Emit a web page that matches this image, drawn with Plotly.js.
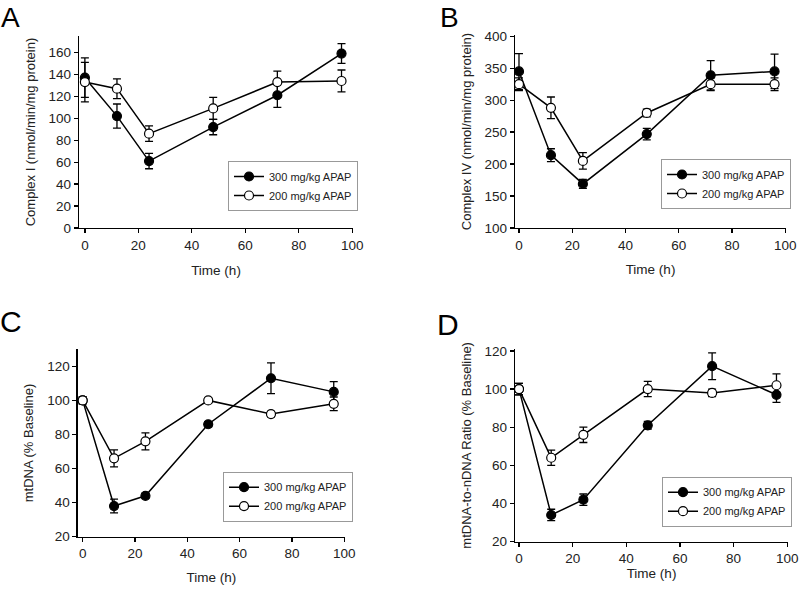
<!DOCTYPE html>
<html>
<head>
<meta charset="utf-8">
<script src="https://cdn.plot.ly/plotly-3.0.1.min.js"></script>
<style>html,body{margin:0;padding:0;background:#fff}#fig{width:800px;height:591px}</style>
</head>
<body>
<div id="fig"></div>
<script>
// time points (h)
var hours = [0, 12, 24, 48, 72, 96];
var doseNames = ['300 mg/kg APAP', '200 mg/kg APAP'];

// A - Complex I
var c1Hi = [137, 102, 61, 92, 121, 159];
var c1HiErr = [18, 11, 7, 7, 11, 9];
var c1Lo = [133, 127, 86, 109, 133, 134];
var c1LoErr = [18, 9, 7, 10, 10, 10];

// B - Complex IV
var c4Hi = [345, 214, 169, 247, 339, 345];
var c4HiErr = [28, 10, 7, 9, 23, 27];
var c4Lo = [325, 288, 205, 280, 325, 325];
var c4LoErr = [10, 17, 13, 6, 10, 10];

// C - mtDNA
var mtHi = [100, 38, 44, 86, 113, 105];
var mtHiErr = [2, 4, 1.5, 1.5, 9, 6];
var mtLo = [100, 66, 76, 100, 92, 98];
var mtLoErr = [2, 5, 5, 1.5, 1.5, 4];

// D - mtDNA-to-nDNA ratio
var ratioHi = [100, 34, 42, 81, 112, 97];
var ratioHiErr = [3, 3, 3, 2, 7, 4];
var ratioLo = [100, 64, 76, 100, 98, 102];
var ratioLoErr = [3, 4, 4, 4, 2, 6];

var txt = '#222';
var fnt = 'Liberation Sans, Arial, sans-serif';

function series(y, err, open, ax, leg) {
  return {
    x: hours, y: y,
    xaxis: 'x' + ax, yaxis: 'y' + ax,
    legend: leg,
    type: 'scatter', mode: 'lines+markers',
    name: open ? doseNames[1] : doseNames[0],
    line: {color: 'black', width: 1.5},
    marker: {
      symbol: 'circle', size: 9,
      color: open ? 'white' : 'black',
      line: {color: 'black', width: 1.2}
    },
    error_y: {type: 'data', array: err, visible: true, color: 'black', thickness: 1.3, width: 4}
  };
}

var data = [
  series(c1Hi, c1HiErr, false, '', 'legend'),
  series(c1Lo, c1LoErr, true, '', 'legend'),
  series(c4Hi, c4HiErr, false, '2', 'legend2'),
  series(c4Lo, c4LoErr, true, '2', 'legend2'),
  series(mtHi, mtHiErr, false, '3', 'legend3'),
  series(mtLo, mtLoErr, true, '3', 'legend3'),
  series(ratioHi, ratioHiErr, false, '4', 'legend4'),
  series(ratioLo, ratioLoErr, true, '4', 'legend4')
];

function axis(opts) {
  var a = {
    showline: true, linecolor: 'black', linewidth: 1.3,
    ticks: 'outside', ticklen: 4, tickwidth: 1.3, tickcolor: 'black',
    showgrid: false, zeroline: false,
    tickfont: {family: fnt, size: 13.5, color: txt},
    fixedrange: true
  };
  for (var k in opts) a[k] = opts[k];
  return a;
}

function xTitle(gap) {
  return {text: 'Time (h)', font: {family: fnt, size: 13.5, color: txt}, standoff: gap};
}
function yTitle(t) {
  return {text: t, font: {family: fnt, size: 13, color: txt}, standoff: 10};
}

function legendBox(x, y) {
  return {
    x: x, y: y, xanchor: 'left', yanchor: 'top',
    bgcolor: 'white', bordercolor: '#999', borderwidth: 1,
    font: {family: fnt, size: 11, color: txt},
    itemwidth: 30
  };
}

// panel letters; top row sits flush with the top edge
function panelLabel(t, x, y, top) {
  return {
    text: t, xref: 'paper', yref: 'paper', x: x / 800,
    y: top ? 1 : 1 - y / 591,
    xanchor: 'center', yanchor: top ? 'top' : 'middle', showarrow: false,
    font: {family: fnt, size: top ? 28 : 30, color: 'black'}
  };
}

var layout = {
  width: 800, height: 591,
  margin: {l: 0, r: 0, t: 0, b: 0},
  paper_bgcolor: 'white', plot_bgcolor: 'white',
  showlegend: true,
  font: {family: fnt, color: txt},

  xaxis: axis({domain: [79 / 800, 353 / 800], range: [-2.2, 100.3], dtick: 20, anchor: 'y', title: xTitle(14)}),
  yaxis: axis({domain: [1 - 228 / 591, 1 - 36 / 591], range: [0, 175], dtick: 20, anchor: 'x',
               title: yTitle('Complex I (nmol/min/mg protein)')}),

  xaxis2: axis({domain: [515 / 800, 786 / 800], range: [-1.5, 100.3], dtick: 20, anchor: 'y2', title: xTitle(13)}),
  yaxis2: axis({domain: [1 - 228 / 591, 1 - 35 / 591], range: [100, 402], dtick: 50, anchor: 'x2',
                title: yTitle('Complex IV (nmol/min/mg protein)')}),

  xaxis3: axis({domain: [77.7 / 800, 345 / 800], range: [-1.9, 100.3], dtick: 20, anchor: 'y3', title: xTitle(12)}),
  yaxis3: axis({domain: [1 - 536.7 / 591, 1 - 349.3 / 591], range: [20, 130], dtick: 20, anchor: 'x3',
                title: yTitle('mtDNA (% Baseline)')}),

  xaxis4: axis({domain: [515 / 800, 788 / 800], range: [-1.5, 100.3], dtick: 20, anchor: 'y4', title: xTitle(3)}),
  yaxis4: axis({domain: [1 - 541.7 / 591, 1 - 349 / 591], range: [20, 121], dtick: 20, anchor: 'x4',
                title: yTitle('mtDNA-to-nDNA Ratio (% Baseline)')}),

  legend: legendBox(228 / 800, 1 - 161 / 591),
  legend2: legendBox(661 / 800, 1 - 159 / 591),
  legend3: legendBox(223 / 800, 1 - 471.7 / 591),
  legend4: legendBox(662 / 800, 1 - 476.7 / 591),

  annotations: [
    panelLabel('A', 10, 0, true),
    panelLabel('B', 449, 0, true),
    panelLabel('C', 11, 321, false),
    panelLabel('D', 448, 325, false)
  ]
};

Plotly.newPlot('fig', data, layout, {displayModeBar: false, staticPlot: true});
</script>
</body>
</html>
